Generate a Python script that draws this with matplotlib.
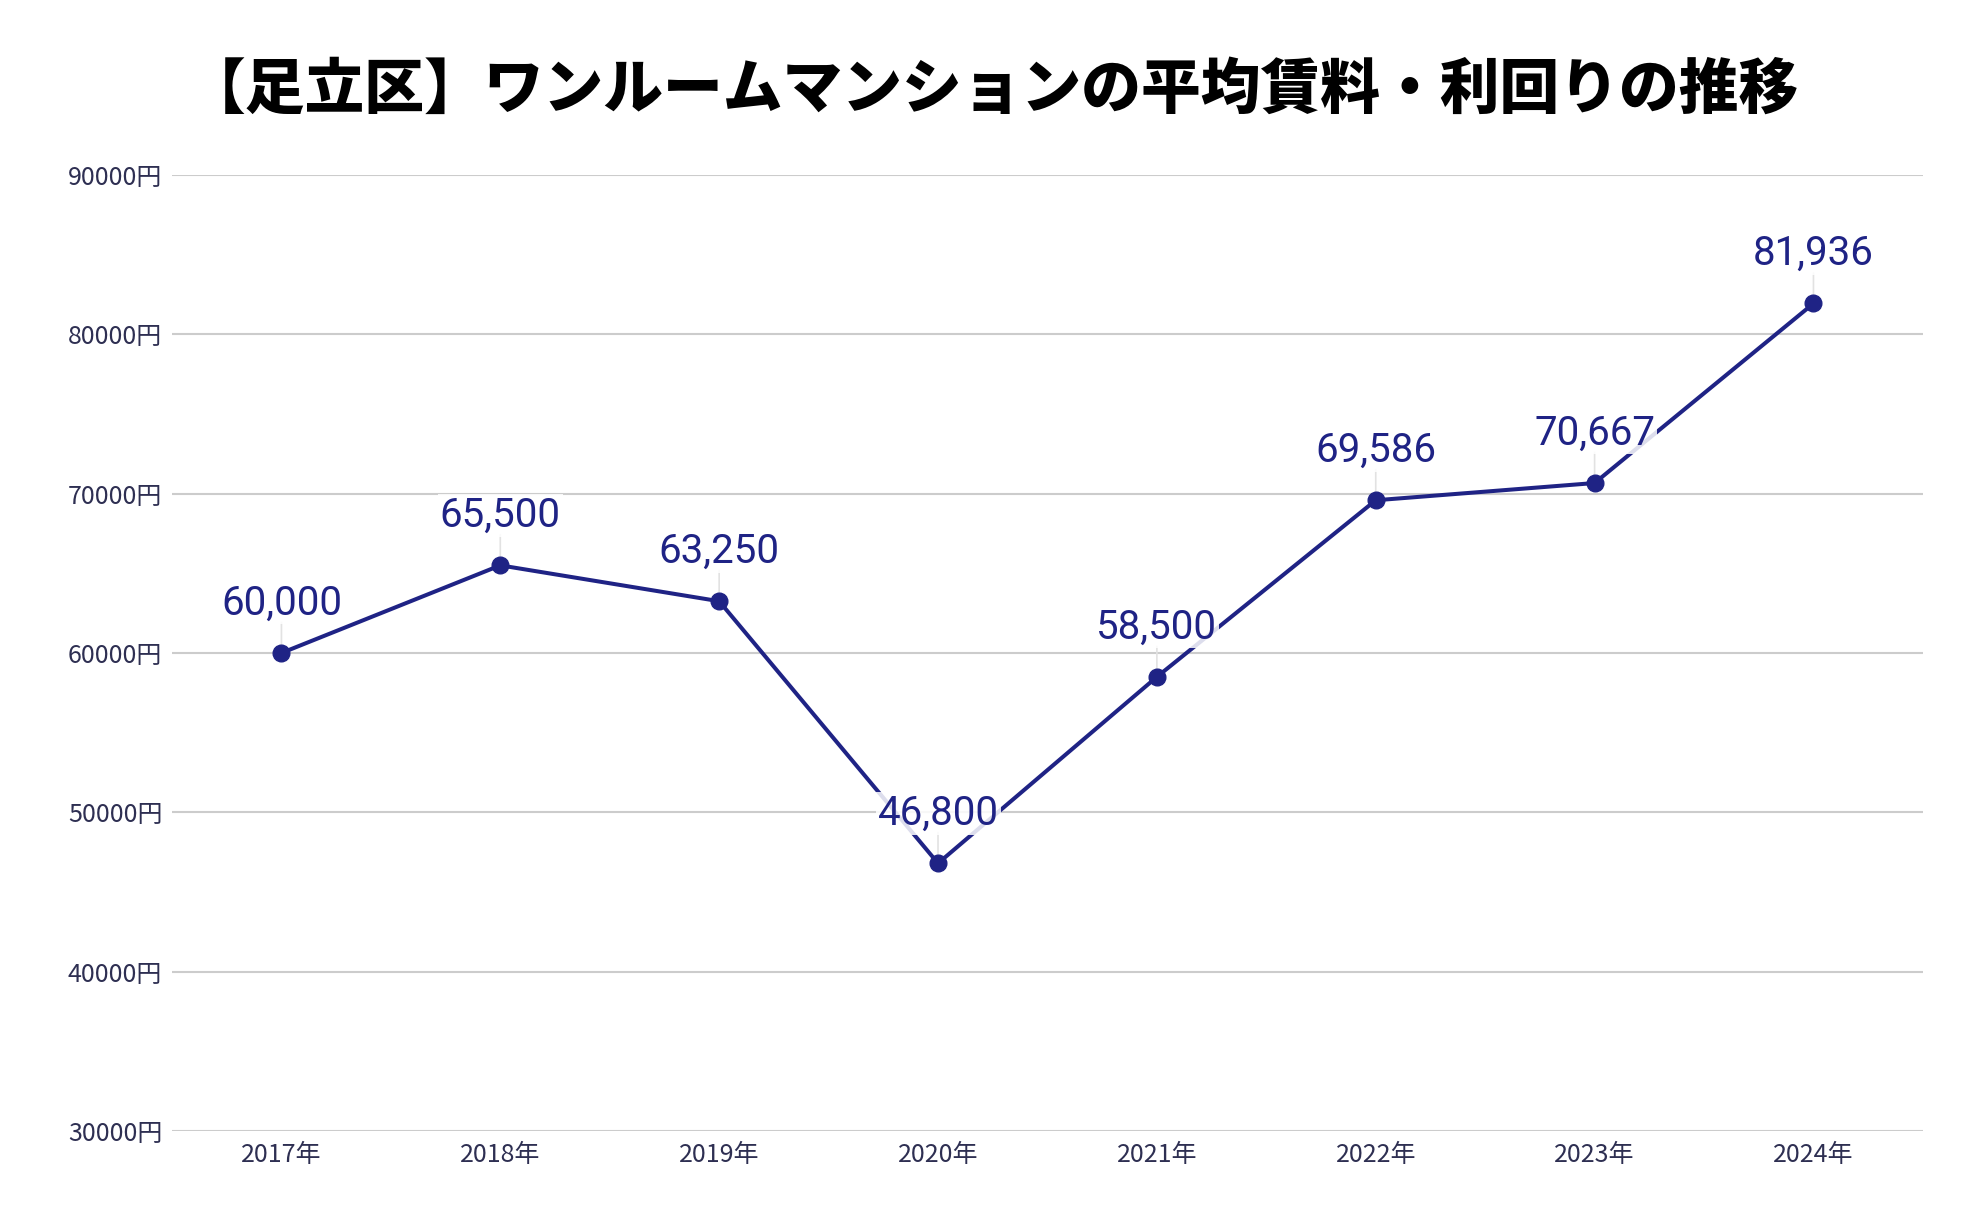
import matplotlib
matplotlib.use("Agg")
import matplotlib.pyplot as plt
import matplotlib.ticker as mticker

plt.rcParams['font.family'] = ['Noto Sans CJK JP', 'DejaVu Sans']

# data
years = ['2017年', '2018年', '2019年', '2020年', '2021年', '2022年', '2023年', '2024年']
rent = [60000, 65500, 63250, 46800, 58500, 69586, 70667, 81936]
y_ticks = [30000, 40000, 50000, 60000, 70000, 80000, 90000]

line_color = '#1f2385'
tick_color = '#2e2f52'

fig = plt.figure(figsize=(19.84, 12.28), dpi=100)
ax = fig.add_axes([0.0867, 0.079, 0.8825, 0.7785])

x = list(range(len(years)))
ax.plot(x, rent, color=line_color, linewidth=2.9, marker='o', markersize=12, zorder=3)

# data labels with thin connector
for xi, v in zip(x, rent):
    ax.annotate('', xy=(xi, v), xytext=(0, 22), textcoords='offset points',
                arrowprops=dict(arrowstyle='-', color='#e2e2e2', lw=1.2, shrinkA=0, shrinkB=0),
                zorder=2)
    ax.annotate(f'{v:,}', xy=(xi, v), xytext=(0, 22), textcoords='offset points',
                ha='center', va='bottom', fontsize=29, color=line_color,
                family=['Roboto', 'DejaVu Sans'], zorder=5,
                bbox=dict(boxstyle='square,pad=0.05', fc='white', ec='none', alpha=0.85))

ax.set_xlim(-0.5, len(years) - 0.5)
ax.set_ylim(30000, 90000)
ax.set_yticks(y_ticks)
ax.yaxis.set_major_formatter(mticker.FuncFormatter(lambda v, p: f'{int(v)}円'))
ax.set_xticks(x)
ax.set_xticklabels(years)

ax.grid(axis='y', color='#cccccc', linewidth=1.5)
ax.set_axisbelow(True)
for s in ax.spines.values():
    s.set_visible(False)
ax.tick_params(axis='both', length=0, labelsize=18, labelcolor=tick_color)
ax.tick_params(axis='y', pad=7)
ax.tick_params(axis='x', pad=8)

fig.text(0.5, 0.927, '【足立区】ワンルームマンションの平均賃料・利回りの推移',
         ha='center', va='center', fontsize=43, fontweight='black', color='black')

fig.savefig('out.png', dpi=100, facecolor='white')
